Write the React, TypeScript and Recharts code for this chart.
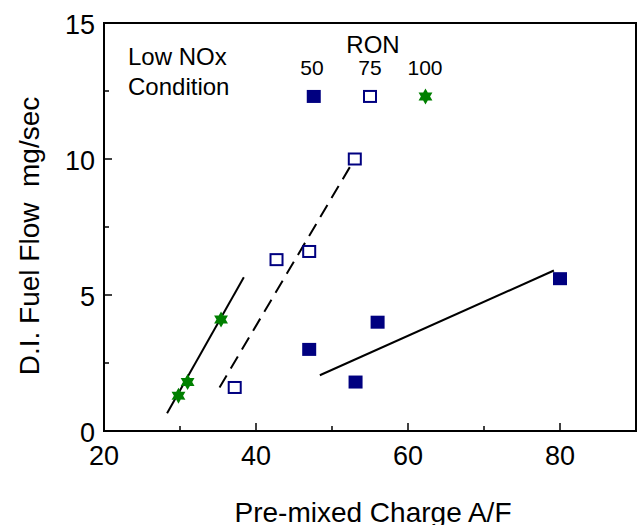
import React from 'react';
import {
  ScatterChart,
  Scatter,
  XAxis,
  YAxis,
  ReferenceLine,
  ReferenceArea,
  Customized,
} from 'recharts';

const ron50X = [47.0, 53.1, 56.0, 80.0];
const ron50Y = [3.0, 1.8, 4.0, 5.6];
const ron75X = [37.2, 42.7, 47.0, 53.0];
const ron75Y = [1.6, 6.3, 6.6, 10.0];
const ron100X = [29.8, 31.0, 35.4];
const ron100Y = [1.3, 1.8, 4.1];

// key symbols drawn inside the plot under "RON"
const keyLabels = ['50', '75', '100'];
const keyX = [47.6, 55.0, 62.3];
const keyY = 12.3;

// trend lines (end points in data units)
const fit100 = [
  { x: 28.3, y: 0.65 },
  { x: 38.4, y: 5.65 },
];
const fit75 = [
  { x: 35.2, y: 1.6 },
  { x: 53.4, y: 10.2 },
];
const fit50 = [
  { x: 48.4, y: 2.05 },
  { x: 79.2, y: 5.9 },
];

const xTicks = [20, 30, 40, 50, 60, 70, 80, 90];
const xLabelled = [20, 40, 60, 80];
const yTicks = [0, 2.5, 5, 7.5, 10, 12.5, 15];
const yLabelled = [0, 5, 10, 15];

const NAVY = '#000080';
const GREEN = '#008000';
const FONT = '"Liberation Sans", Arial, sans-serif';

const toPoints = (xs: number[], ys: number[]) => xs.map((x, i) => ({ x, y: ys[i] }));

const FilledSquare = (props: any) => {
  const { cx, cy } = props;
  return <rect x={cx - 7} y={cy - 6.5} width={14} height={13} fill={NAVY} />;
};

const OpenSquare = (props: any) => {
  const { cx, cy } = props;
  return <rect x={cx - 6} y={cy - 5.5} width={12} height={11} fill="#fff" stroke={NAVY} strokeWidth={2} />;
};

const Star = (props: any) => {
  const { cx, cy } = props;
  const pts: string[] = [];
  for (let i = 0; i < 12; i++) {
    const r = i % 2 === 0 ? 8 : 4.6;
    const a = (Math.PI / 6) * i - Math.PI / 2;
    pts.push(`${cx + r * Math.cos(a)},${cy + r * Math.sin(a)}`);
  }
  return <polygon points={pts.join(' ')} fill={GREEN} />;
};

// plot box edges in pixels (from the margins below)
const PLOT_LEFT = 104;
const PLOT_BOTTOM = 431;

const renderXTick = (props: any) => {
  const { x, payload } = props;
  const y = PLOT_BOTTOM;
  const major = xLabelled.includes(payload.value);
  return (
    <g key={`xt-${payload.value}`}>
      <line x1={x} y1={y} x2={x} y2={y - (major ? 8 : 5)} stroke="#000" strokeWidth={1.5} />
      {major && (
        <text x={x} y={y + 34} textAnchor="middle" fontSize={27} fill="#000" fontFamily={FONT}>
          {payload.value}
        </text>
      )}
    </g>
  );
};

const renderYTick = (props: any) => {
  const { y, payload } = props;
  const x = PLOT_LEFT;
  const major = yLabelled.includes(payload.value);
  return (
    <g key={`yt-${payload.value}`}>
      <line x1={x} y1={y} x2={x + (major ? 8 : 5)} y2={y} stroke="#000" strokeWidth={1.5} />
      {major && (
        <text x={x - 9} y={y + 11} textAnchor="end" fontSize={27} fill="#000" fontFamily={FONT}>
          {payload.value}
        </text>
      )}
    </g>
  );
};

const Annotations = () => (
  <g fontFamily={FONT} fill="#000">
    <text x={128} y={65} fontSize={24}>Low NOx</text>
    <text x={128} y={95} fontSize={24}>Condition</text>
    <text x={373} y={53} fontSize={24} textAnchor="middle">RON</text>
    <text x={312} y={75} fontSize={21} textAnchor="middle">{keyLabels[0]}</text>
    <text x={370} y={75} fontSize={21} textAnchor="middle">{keyLabels[1]}</text>
    <text x={425} y={75} fontSize={21} textAnchor="middle">{keyLabels[2]}</text>
    <text x={373} y={522} fontSize={28} textAnchor="middle">Pre-mixed Charge A/F</text>
    <text x={39} y={236} fontSize={28} textAnchor="middle" transform="rotate(-90 39 236)">
      {'D.I. Fuel Flow\u00a0\u00a0mg/sec'}
    </text>
  </g>
);

export default function App() {
  return (
    <div style={{ position: 'absolute', left: 0, top: 0, width: 642, height: 525, background: '#fff' }}>
      <ScatterChart
        width={642}
        height={525}
        margin={{ top: 23, right: 6, bottom: 93, left: 103 }}
        style={{ fontFamily: FONT }}
      >
        <XAxis
          type="number"
          dataKey="x"
          domain={[20, 90]}
          ticks={xTicks}
          interval={0}
          height={1}
          tickSize={0}
          tickMargin={0}
          tickLine={false}
          axisLine={false}
          tick={renderXTick}
          allowDataOverflow
        />
        <YAxis
          type="number"
          dataKey="y"
          domain={[0, 15]}
          ticks={yTicks}
          interval={0}
          width={1}
          tickSize={0}
          tickMargin={0}
          tickLine={false}
          axisLine={false}
          tick={renderYTick}
          allowDataOverflow
        />
        <ReferenceArea x1={20} x2={90} y1={0} y2={15} fill="none" stroke="#000" strokeWidth={2} />
        <ReferenceLine segment={fit100} stroke="#000" strokeWidth={2} />
        <ReferenceLine segment={fit75} stroke="#000" strokeWidth={2} strokeDasharray="14 8" />
        <ReferenceLine segment={fit50} stroke="#000" strokeWidth={2} />
        <Scatter data={toPoints(ron50X, ron50Y)} shape={FilledSquare} isAnimationActive={false} />
        <Scatter data={toPoints(ron75X, ron75Y)} shape={OpenSquare} isAnimationActive={false} />
        <Scatter data={toPoints(ron100X, ron100Y)} shape={Star} isAnimationActive={false} />
        <Scatter data={[{ x: keyX[0], y: keyY }]} shape={FilledSquare} isAnimationActive={false} />
        <Scatter data={[{ x: keyX[1], y: keyY }]} shape={OpenSquare} isAnimationActive={false} />
        <Scatter data={[{ x: keyX[2], y: keyY }]} shape={Star} isAnimationActive={false} />
        <Customized component={Annotations} />
      </ScatterChart>
    </div>
  );
}
